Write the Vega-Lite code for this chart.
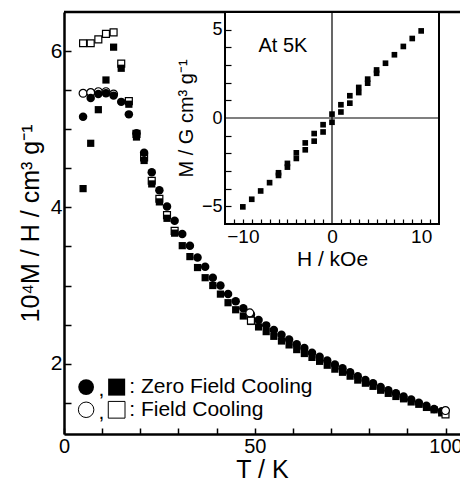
{
  "$schema": "https://vega.github.io/schema/vega-lite/v6.json",
  "width": 396,
  "height": 422,
  "autosize": "none",
  "padding": {"left": 64, "top": 12, "right": 0, "bottom": 45},
  "background": "white",
  "config": {
    "font": "Liberation Sans",
    "view": {"stroke": null},
    "axis": {
      "grid": false,
      "domainColor": "black",
      "tickColor": "black",
      "labelColor": "black",
      "titleColor": "black",
      "titleFontWeight": "normal",
      "labelFlush": false,
      "labelOverlap": false
    },
    "text": {"color": "black"}
  },
  "datasets": {
    "zfcCircle": [
      {"T": 5, "v": 5.16}, {"T": 7, "v": 5.40}, {"T": 9, "v": 5.45}, {"T": 11, "v": 5.46}, {"T": 13, "v": 5.43},
      {"T": 15, "v": 5.35}, {"T": 17, "v": 5.19}, {"T": 19, "v": 4.95}, {"T": 21, "v": 4.70}, {"T": 23, "v": 4.45},
      {"T": 25, "v": 4.22}, {"T": 27, "v": 4.01}, {"T": 29, "v": 3.83}, {"T": 31, "v": 3.66}, {"T": 33, "v": 3.51},
      {"T": 35, "v": 3.36}, {"T": 37, "v": 3.24}, {"T": 39, "v": 3.10}, {"T": 41, "v": 3.00}, {"T": 43, "v": 2.89},
      {"T": 45, "v": 2.80}, {"T": 47, "v": 2.71}, {"T": 49, "v": 2.63}, {"T": 51, "v": 2.56}, {"T": 53, "v": 2.49},
      {"T": 55, "v": 2.43}, {"T": 57, "v": 2.37}, {"T": 59, "v": 2.31}, {"T": 61, "v": 2.25}, {"T": 63, "v": 2.20},
      {"T": 65, "v": 2.14}, {"T": 67, "v": 2.09}, {"T": 69, "v": 2.04}, {"T": 71, "v": 1.99}, {"T": 73, "v": 1.94},
      {"T": 75, "v": 1.89}, {"T": 77, "v": 1.84}, {"T": 79, "v": 1.79}, {"T": 81, "v": 1.75}, {"T": 83, "v": 1.70},
      {"T": 85, "v": 1.66}, {"T": 87, "v": 1.62}, {"T": 89, "v": 1.58}, {"T": 91, "v": 1.54}, {"T": 93, "v": 1.50},
      {"T": 95, "v": 1.46}, {"T": 97, "v": 1.42}, {"T": 99, "v": 1.39}
    ],
    "zfcSquare": [
      {"T": 5, "v": 4.24}, {"T": 7, "v": 4.82}, {"T": 9, "v": 5.25}, {"T": 11, "v": 5.63}, {"T": 13, "v": 6.05},
      {"T": 15, "v": 5.78}, {"T": 17, "v": 5.32}, {"T": 19, "v": 4.90}, {"T": 21, "v": 4.60}, {"T": 23, "v": 4.30},
      {"T": 25, "v": 4.07}, {"T": 27, "v": 3.86}, {"T": 29, "v": 3.67}, {"T": 31, "v": 3.51}, {"T": 33, "v": 3.37},
      {"T": 35, "v": 3.23}, {"T": 37, "v": 3.10}, {"T": 39, "v": 3.00}, {"T": 41, "v": 2.89}, {"T": 43, "v": 2.78},
      {"T": 45, "v": 2.69}, {"T": 47, "v": 2.61}, {"T": 49, "v": 2.54}, {"T": 51, "v": 2.47}, {"T": 53, "v": 2.41},
      {"T": 55, "v": 2.35}, {"T": 57, "v": 2.29}, {"T": 59, "v": 2.24}, {"T": 61, "v": 2.18}, {"T": 63, "v": 2.13},
      {"T": 65, "v": 2.08}, {"T": 67, "v": 2.03}, {"T": 69, "v": 1.98}, {"T": 71, "v": 1.93}, {"T": 73, "v": 1.89},
      {"T": 75, "v": 1.84}, {"T": 77, "v": 1.79}, {"T": 79, "v": 1.75}, {"T": 81, "v": 1.71}, {"T": 83, "v": 1.66},
      {"T": 85, "v": 1.62}, {"T": 87, "v": 1.58}, {"T": 89, "v": 1.55}, {"T": 91, "v": 1.51}, {"T": 93, "v": 1.48},
      {"T": 95, "v": 1.44}, {"T": 97, "v": 1.41}, {"T": 99, "v": 1.37}
    ],
    "fcCircle": [
      {"T": 5, "v": 5.46}, {"T": 7, "v": 5.47}, {"T": 9, "v": 5.48}, {"T": 11, "v": 5.48}, {"T": 13, "v": 5.45},
      {"T": 48.7, "v": 2.65}, {"T": 100, "v": 1.40}
    ],
    "fcSquare": [
      {"T": 5, "v": 6.10}, {"T": 7, "v": 6.10}, {"T": 9, "v": 6.15}, {"T": 11, "v": 6.22}, {"T": 13, "v": 6.24},
      {"T": 15, "v": 5.84}, {"T": 17, "v": 5.36}, {"T": 19, "v": 4.94}, {"T": 21, "v": 4.64}, {"T": 23, "v": 4.34},
      {"T": 25, "v": 4.11}, {"T": 27, "v": 3.90}, {"T": 29, "v": 3.70},
      {"T": 49, "v": 2.55}, {"T": 100, "v": 1.35}
    ],
    "legendFilled": [{"Tc": 5.8, "Tm": 9.8, "Ts": 13.8, "Tt": 17.1, "v": 1.70, "label": ": Zero Field Cooling"}],
    "legendOpen": [{"Tc": 5.8, "Tm": 9.8, "Ts": 13.8, "Tt": 17.1, "v": 1.41, "label": ": Field Cooling"}],
    "mh": [
      {"H": 10, "M": 4.93}, {"H": 9, "M": 4.50}, {"H": 8, "M": 4.05}, {"H": 7, "M": 3.58}, {"H": 6, "M": 3.10},
      {"H": 5, "M": 2.72}, {"H": 5, "M": 2.53}, {"H": 4, "M": 2.20}, {"H": 4, "M": 1.97}, {"H": 3, "M": 1.73},
      {"H": 3, "M": 1.44}, {"H": 2, "M": 1.26}, {"H": 2, "M": 0.84}, {"H": 1, "M": 0.75}, {"H": 1, "M": 0.34},
      {"H": 0, "M": 0.22}, {"H": 0, "M": -0.24}, {"H": -1, "M": -0.38}, {"H": -1, "M": -0.79}, {"H": -2, "M": -0.88},
      {"H": -2, "M": -1.31}, {"H": -3, "M": -1.41}, {"H": -3, "M": -1.80}, {"H": -4, "M": -1.97}, {"H": -4, "M": -2.29},
      {"H": -5, "M": -2.57}, {"H": -5, "M": -2.78}, {"H": -6, "M": -3.10}, {"H": -6, "M": -3.25}, {"H": -7, "M": -3.66},
      {"H": -8, "M": -4.13}, {"H": -9, "M": -4.60}, {"H": -10, "M": -5.03}
    ],
    "insetLabel": [{"H": -5.5, "M": 4.1, "label": "At 5K"}]
  },
  "layer": [
    {
      "layer": [
        {
          "data": {"name": "fcSquare"},
          "transform": [{"filter": "datum.T < 40"}],
          "mark": {"type": "point", "shape": "square", "filled": true, "fill": "white", "stroke": "black", "strokeWidth": 1.2, "size": 48, "opacity": 1},
          "encoding": {
            "x": {
              "field": "T", "type": "quantitative",
              "scale": {"domain": [0, 103.8], "nice": false, "zero": false},
              "axis": {
                "orient": "bottom",
                "values": [0, 50, 100],
                "format": "d",
                "title": "T / K",
                "titleFontSize": 25,
                "titlePadding": 1,
                "labelFontSize": 20,
                "ticks": false,
                "labelPadding": 2,
                "labelOverlap": false,
                "domainWidth": 2.5
              }
            },
            "y": {
              "field": "v", "type": "quantitative",
              "scale": {"domain": [1.1, 6.5], "nice": false, "zero": false},
              "axis": {
                "orient": "left",
                "values": [2, 4, 6],
                "format": "d",
                "title": "10⁴M / H / cm³ g⁻¹",
                "titleFontSize": 25,
                "titlePadding": 7,
                "labelFontSize": 21,
                "ticks": false,
                "labelPadding": 2,
                "labelOverlap": false,
                "domainWidth": 2.5
              }
            }
          }
        },
        {
          "data": {"name": "zfcSquare"},
          "mark": {"type": "point", "shape": "square", "filled": true, "color": "black", "size": 52, "opacity": 1},
          "encoding": {
            "x": {
              "field": "T", "type": "quantitative",
              "axis": {
                "orient": "top", "offset": -422, "values": [0, 10, 20, 30, 40, 50, 60, 70, 80, 90, 100],
                "labels": false, "domain": false, "title": null, "ticks": true, "tickSize": 6, "tickWidth": 1.5, "zindex": 1
              }
            },
            "y": {
              "field": "v", "type": "quantitative",
              "axis": {
                "orient": "right", "offset": -396, "values": [1.5, 2, 2.5, 3, 3.5, 4, 4.5, 5, 5.5, 6],
                "labels": false, "domain": false, "title": null, "ticks": true, "tickSize": 7, "tickWidth": 1.5, "zindex": 1
              }
            }
          }
        },
        {
          "data": {"name": "fcCircle"},
          "transform": [{"filter": "datum.T < 40"}],
          "mark": {"type": "point", "shape": "circle", "filled": true, "fill": "white", "stroke": "black", "strokeWidth": 1.2, "size": 62, "opacity": 1},
          "encoding": {"x": {"field": "T", "type": "quantitative", "axis": null}, "y": {"field": "v", "type": "quantitative", "axis": null}}
        },
        {
          "data": {"name": "zfcCircle"},
          "mark": {"type": "point", "shape": "circle", "filled": true, "color": "black", "size": 72, "opacity": 1},
          "encoding": {"x": {"field": "T", "type": "quantitative", "axis": null}, "y": {"field": "v", "type": "quantitative", "axis": null}}
        },
        {
          "data": {"name": "fcSquare"},
          "transform": [{"filter": "datum.T > 40"}],
          "mark": {"type": "point", "shape": "square", "filled": true, "fill": "white", "stroke": "black", "strokeWidth": 1.2, "size": 48, "opacity": 1},
          "encoding": {"x": {"field": "T", "type": "quantitative", "axis": null}, "y": {"field": "v", "type": "quantitative", "axis": null}}
        },
        {
          "data": {"name": "fcCircle"},
          "transform": [{"filter": "datum.T > 40"}],
          "mark": {"type": "point", "shape": "circle", "filled": true, "fill": "white", "stroke": "black", "strokeWidth": 1.2, "size": 62, "opacity": 1},
          "encoding": {"x": {"field": "T", "type": "quantitative", "axis": null}, "y": {"field": "v", "type": "quantitative", "axis": null}}
        },
        {
          "data": {"values": [{}]},
          "mark": {"type": "rule", "color": "black", "strokeWidth": 2.5},
          "encoding": {"y": {"datum": 6.5, "type": "quantitative", "axis": null}}
        },
        {
          "data": {"name": "legendFilled"},
          "mark": {"type": "point", "shape": "circle", "filled": true, "color": "black", "size": 250, "opacity": 1},
          "encoding": {"x": {"field": "Tc", "type": "quantitative", "axis": null}, "y": {"field": "v", "type": "quantitative", "axis": null}}
        },
        {
          "data": {"name": "legendFilled"},
          "mark": {"type": "point", "shape": "square", "filled": true, "color": "black", "size": 290, "opacity": 1},
          "encoding": {"x": {"field": "Ts", "type": "quantitative", "axis": null}, "y": {"field": "v", "type": "quantitative", "axis": null}}
        },
        {
          "data": {"name": "legendOpen"},
          "mark": {"type": "point", "shape": "circle", "filled": true, "fill": "white", "stroke": "black", "strokeWidth": 1, "size": 240, "opacity": 1},
          "encoding": {"x": {"field": "Tc", "type": "quantitative", "axis": null}, "y": {"field": "v", "type": "quantitative", "axis": null}}
        },
        {
          "data": {"name": "legendOpen"},
          "mark": {"type": "point", "shape": "square", "filled": true, "fill": "white", "stroke": "black", "strokeWidth": 1, "size": 280, "opacity": 1},
          "encoding": {"x": {"field": "Ts", "type": "quantitative", "axis": null}, "y": {"field": "v", "type": "quantitative", "axis": null}}
        },
        {
          "data": {"name": "legendFilled"},
          "mark": {"type": "text", "text": ",", "fontSize": 21, "align": "center", "baseline": "middle", "dy": 3},
          "encoding": {"x": {"field": "Tm", "type": "quantitative", "axis": null}, "y": {"field": "v", "type": "quantitative", "axis": null}}
        },
        {
          "data": {"name": "legendOpen"},
          "mark": {"type": "text", "text": ",", "fontSize": 21, "align": "center", "baseline": "middle", "dy": 3},
          "encoding": {"x": {"field": "Tm", "type": "quantitative", "axis": null}, "y": {"field": "v", "type": "quantitative", "axis": null}}
        },
        {
          "data": {"name": "legendFilled"},
          "mark": {"type": "text", "fontSize": 21, "align": "left", "baseline": "middle"},
          "encoding": {"x": {"field": "Tt", "type": "quantitative", "axis": null}, "y": {"field": "v", "type": "quantitative", "axis": null}, "text": {"field": "label"}}
        },
        {
          "data": {"name": "legendOpen"},
          "mark": {"type": "text", "fontSize": 21, "align": "left", "baseline": "middle"},
          "encoding": {"x": {"field": "Tt", "type": "quantitative", "axis": null}, "y": {"field": "v", "type": "quantitative", "axis": null}, "text": {"field": "label"}}
        }
      ],
      "resolve": {"axis": {"x": "independent", "y": "independent"}}
    },
    {
      "layer": [
        {
          "data": {"values": [{}]},
          "mark": {"type": "rect", "fill": "white", "stroke": "black", "strokeWidth": 2},
          "encoding": {
            "x": {
              "datum": -12, "type": "quantitative",
              "scale": {"domain": [-12, 12], "range": [161, 375], "nice": false, "zero": false},
              "axis": {
                "orient": "bottom",
                "offset": -210,
                "domain": false,
                "ticks": false,
                "values": [-10, 0, 10],
                "title": "H / kOe",
                "titleFontSize": 21,
                "titlePadding": 2,
                "labelFontSize": 19,
                "labelPadding": 3,
                "labelOverlap": false
              }
            },
            "x2": {"datum": 12},
            "y": {
              "datum": -6, "type": "quantitative",
              "scale": {"domain": [-6, 6], "range": [212, 0], "nice": false, "zero": false},
              "axis": {
                "orient": "left",
                "offset": -161,
                "domain": false,
                "ticks": false,
                "values": [-5, 0, 5],
                "title": "M / G cm³ g⁻¹",
                "titleFontSize": 20,
                "titlePadding": 5,
                "labelFontSize": 18,
                "labelPadding": 3,
                "labelOverlap": false
              }
            },
            "y2": {"datum": 6}
          }
        },
        {
          "data": {"values": [{}]},
          "mark": {"type": "rule", "color": "black", "strokeWidth": 1.2},
          "encoding": {
            "x": {
              "datum": 0, "type": "quantitative",
              "axis": {
                "orient": "top", "offset": -212,
                "values": [-11, -10, -9, -8, -7, -6, -5, -4, -3, -2, -1, 1, 2, 3, 4, 5, 6, 7, 8, 9, 10, 11],
                "labels": false, "domain": false, "title": null, "ticks": true, "tickSize": 5, "tickWidth": 1.2, "zindex": 1
              }
            },
            "y": {"datum": -6, "type": "quantitative", "axis": null},
            "y2": {"datum": 6}
          }
        },
        {
          "data": {"values": [{}]},
          "mark": {"type": "rule", "color": "black", "strokeWidth": 1.2},
          "encoding": {
            "x": {"datum": -12, "type": "quantitative", "axis": null},
            "x2": {"datum": 12},
            "y": {"datum": 0, "type": "quantitative", "axis": null}
          }
        },
        {
          "data": {"name": "mh"},
          "mark": {"type": "point", "shape": "square", "filled": true, "color": "black", "size": 32, "opacity": 1},
          "encoding": {
            "x": {"field": "H", "type": "quantitative", "axis": null},
            "y": {
              "field": "M", "type": "quantitative",
              "axis": {
                "orient": "right", "offset": -235,
                "values": [-5, -4, -3, -2, -1, 1, 2, 3, 4, 5],
                "labels": false, "domain": false, "title": null, "ticks": true, "tickSize": 6, "tickWidth": 1.2, "zindex": 1
              }
            }
          }
        },
        {
          "data": {"name": "insetLabel"},
          "mark": {"type": "text", "fontSize": 20, "align": "center", "baseline": "middle"},
          "encoding": {"x": {"field": "H", "type": "quantitative", "axis": null}, "y": {"field": "M", "type": "quantitative", "axis": null}, "text": {"field": "label"}}
        }
      ],
      "resolve": {"axis": {"x": "independent", "y": "independent"}}
    }
  ],
  "resolve": {
    "scale": {"x": "independent", "y": "independent"},
    "axis": {"x": "independent", "y": "independent"}
  }
}
